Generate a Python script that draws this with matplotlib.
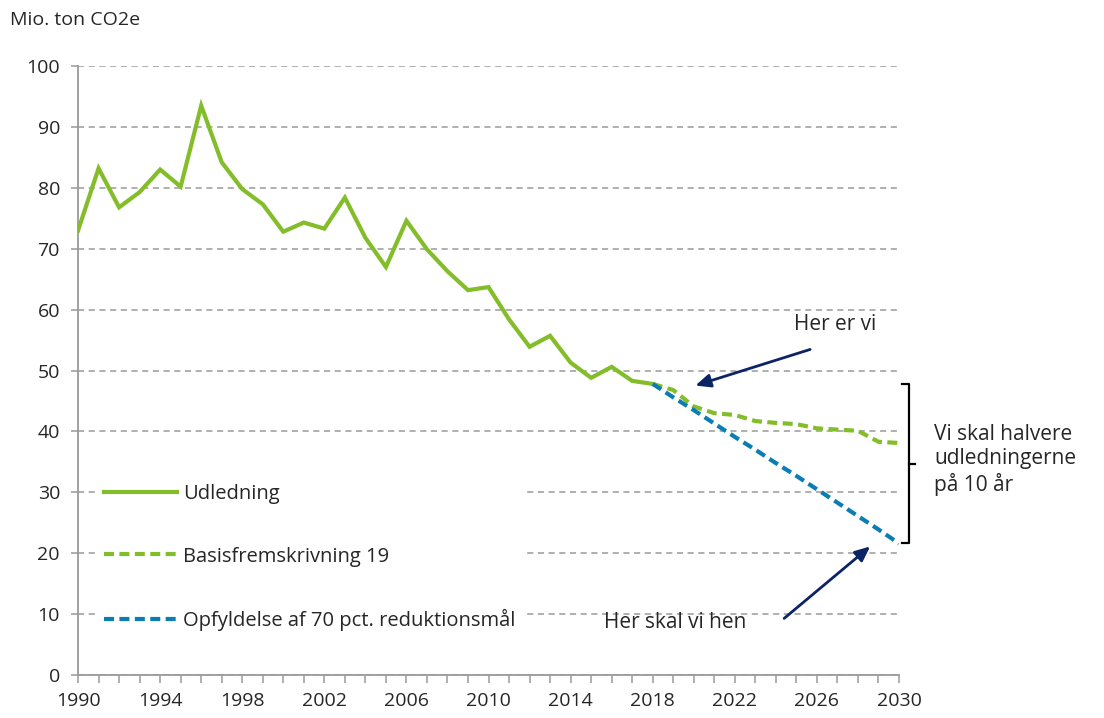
import matplotlib
matplotlib.use("Agg")
import matplotlib.pyplot as plt
from matplotlib.ticker import MultipleLocator, FixedLocator

plt.rcParams['font.family'] = ['Open Sans', 'DejaVu Sans']

# historic emissions (Mio. ton CO2e)
years_hist = list(range(1990, 2019))
udledning = [73.0, 83.2, 76.8, 79.3, 83.0, 80.2, 93.5, 84.2, 79.8, 77.3,
             72.8, 74.3, 73.3, 78.4, 71.8, 67.0, 74.6, 69.9, 66.3, 63.2,
             63.7, 58.4, 53.9, 55.7, 51.3, 48.8, 50.6, 48.3, 47.8]

# projections
years_proj = list(range(2018, 2031))
basis19 = [47.8, 46.8, 44.1, 43.0, 42.7, 41.7, 41.4, 41.2, 40.5, 40.3, 40.1, 38.3, 38.1]
opfyld70 = [47.8, 45.6, 43.5, 41.3, 39.1, 37.0, 34.8, 32.7, 30.5, 28.3, 26.1, 23.9, 21.6]

x_labels = list(range(1990, 2031, 4))

green = '#84bd2a'
blue = '#0a7db4'
navy = '#0b2466'
grid_col = '#9a9a9a'
txt_col = '#262626'

fig = plt.figure(figsize=(11.04, 7.18), dpi=100)
ax = fig.add_axes([0.0707, 0.0599, 0.7436, 0.8481])

ax.plot(years_hist, udledning, color=green, lw=3, solid_joinstyle='miter',
        label='Udledning', zorder=3)
ax.plot(years_proj, basis19, color=green, lw=3, dashes=(2.4, 1.3),
        label='Basisfremskrivning 19', zorder=3)
ax.plot(years_proj, opfyld70, color=blue, lw=3, dashes=(2.4, 1.3),
        label='Opfyldelse af 70 pct. reduktionsmål', zorder=3)

ax.set_xlim(1990, 2030)
ax.set_ylim(0, 100)
ax.xaxis.set_major_locator(FixedLocator(x_labels))
ax.xaxis.set_minor_locator(MultipleLocator(1))
ax.yaxis.set_major_locator(MultipleLocator(10))
ax.grid(axis='y', color=grid_col, ls=(0, (4, 3)), lw=1.1, zorder=0)
ax.set_axisbelow(True)

for s in ['top', 'right']:
    ax.spines[s].set_visible(False)
for s in ['left', 'bottom']:
    ax.spines[s].set_color(grid_col)
    ax.spines[s].set_linewidth(1.3)
ax.tick_params(axis='both', which='both', color=grid_col, width=1.1,
               labelsize=14, labelcolor=txt_col)
ax.tick_params(axis='y', length=5, pad=8)
ax.tick_params(axis='x', which='major', length=6, pad=6)
ax.tick_params(axis='x', which='minor', length=6)

fig.text(0.009, 0.972, 'Mio. ton CO2e', fontsize=14, color=txt_col, va='center')

leg = ax.legend(loc='upper left', bbox_to_anchor=(0.01, 0.343), frameon=True,
                fontsize=14.5, handlelength=3.6, handletextpad=0.3,
                labelspacing=2.1, borderpad=0.4)
leg.get_frame().set_facecolor('white')
leg.get_frame().set_edgecolor('white')
leg.get_frame().set_alpha(1)
for t in leg.get_texts():
    t.set_color(txt_col)

# annotations
ax.annotate('', xy=(2019.95, 47.4), xytext=(2025.8, 53.6),
            arrowprops=dict(arrowstyle='-|>,head_length=0.9,head_width=0.4',
                            color=navy, lw=2))
ax.text(2026.9, 57.6, 'Her er vi', fontsize=15, color=txt_col, ha='center', va='center')

ax.annotate('', xy=(2028.7, 21.4), xytext=(2024.3, 9.0),
            arrowprops=dict(arrowstyle='-|>,head_length=0.9,head_width=0.4',
                            color=navy, lw=2))
ax.text(2019.1, 8.7, 'Her skal vi hen', fontsize=15, color=txt_col, ha='center', va='center')

# bracket
bx = 2030.5
ax.plot([bx - 0.35, bx, bx, bx - 0.35], [47.8, 47.8, 21.6, 21.6], color='black',
        lw=1.6, clip_on=False)
ax.plot([bx, bx + 0.3], [34.7, 34.7], color='black', lw=1.6, clip_on=False)
ax.text(2031.7, 35.3, 'Vi skal halvere\nudledningerne\npå 10 år', fontsize=15,
        color=txt_col, ha='left', va='center', linespacing=1.2)

fig.savefig('out.png', dpi=100)
